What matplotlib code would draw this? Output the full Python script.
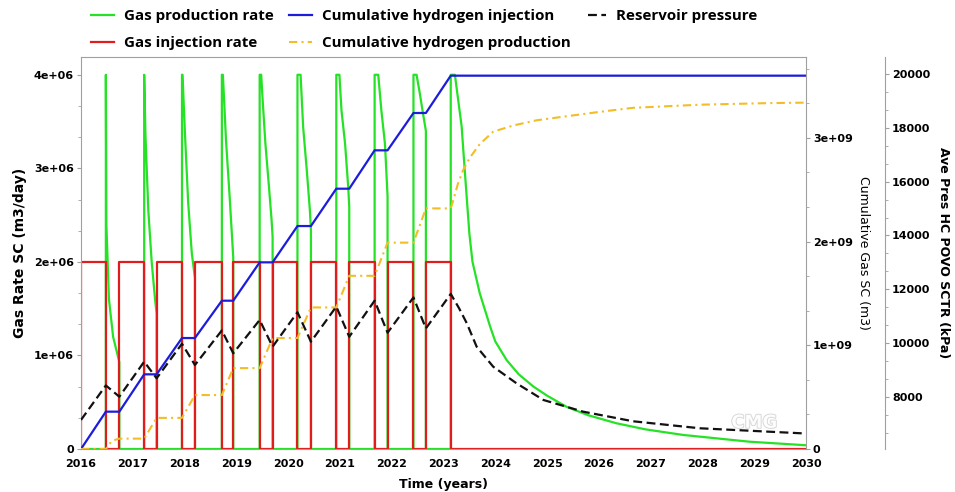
import matplotlib
matplotlib.use("Agg")
import matplotlib.pyplot as plt
import matplotlib.patheffects as pe
from matplotlib.ticker import FixedLocator, MultipleLocator

# Injection schedule (decimal years)
inj_start = [2016.00, 2016.74, 2017.46, 2018.20, 2018.94, 2019.70, 2020.44, 2021.18, 2021.92, 2022.66]
inj_end = [2016.48, 2017.22, 2017.95, 2018.72, 2019.45, 2020.18, 2020.93, 2021.67, 2022.42, 2023.14]
inj_rate = 2.0e6  # m3/day

# Gas production rate (m3/day)
prod_years = [
    2016.00, 2016.48,
    2016.48, 2016.49, 2016.54, 2016.62, 2016.74, 2016.74,
    2017.22, 2017.22, 2017.245, 2017.30, 2017.365, 2017.43, 2017.46, 2017.46,
    2017.95, 2017.95, 2017.96, 2018.01, 2018.07, 2018.14, 2018.20, 2018.20,
    2018.72, 2018.72, 2018.74, 2018.80, 2018.87, 2018.94, 2018.94,
    2019.45, 2019.45, 2019.48, 2019.50, 2019.56, 2019.63, 2019.68, 2019.70, 2019.70,
    2020.18, 2020.18, 2020.24, 2020.29, 2020.36, 2020.42, 2020.44, 2020.44,
    2020.93, 2020.93, 2020.99, 2021.03, 2021.10, 2021.16, 2021.18, 2021.18,
    2021.67, 2021.67, 2021.74, 2021.80, 2021.87, 2021.92, 2021.92,
    2022.42, 2022.42, 2022.48, 2022.54, 2022.60, 2022.66, 2022.66,
    2023.14, 2023.14, 2023.22, 2023.35, 2023.41, 2023.50, 2023.56, 2023.70,
    2023.90, 2024.00, 2024.22, 2024.45, 2024.73, 2025.00, 2025.38, 2025.80,
    2026.34, 2026.90, 2027.63, 2028.91, 2030.00,
]
prod_rate = [
    0, 0,
    4.0e6, 2.4e6, 1.6e6, 1.2e6, 0.93e6, 0,
    0, 4.0e6, 3.35e6, 2.55e6, 2.0e6, 1.6e6, 1.45e6, 0,
    0, 4.0e6, 4.0e6, 3.34e6, 2.63e6, 2.09e6, 1.83e6, 0,
    0, 4.0e6, 4.0e6, 3.3e6, 2.7e6, 2.05e6, 0,
    0, 4.0e6, 4.0e6, 3.8e6, 3.27e6, 2.80e6, 2.45e6, 2.27e6, 0,
    0, 4.0e6, 4.0e6, 3.44e6, 2.98e6, 2.55e6, 2.34e6, 0,
    0, 4.0e6, 4.0e6, 3.62e6, 3.26e6, 2.80e6, 2.59e6, 0,
    0, 4.0e6, 4.0e6, 3.62e6, 3.26e6, 2.70e6, 0,
    0, 4.0e6, 4.0e6, 3.81e6, 3.60e6, 3.40e6, 0,
    0, 4.0e6, 4.0e6, 3.45e6, 2.98e6, 2.3e6, 2.0e6, 1.665e6,
    1.31e6, 1.15e6, 0.95e6, 0.80e6, 0.67e6, 0.57e6, 0.45e6, 0.36e6,
    0.275e6, 0.21e6, 0.15e6, 0.078e6, 0.04e6,
]

# Cumulative hydrogen injection (m3)
cum_inj_years = [2016.00, 2016.48, 2016.74, 2017.22, 2017.46, 2017.95, 2018.20, 2018.72,
                 2018.94, 2019.45, 2019.70, 2020.18, 2020.44, 2020.93, 2021.18, 2021.67,
                 2021.92, 2022.42, 2022.66, 2023.14, 2030.00]
cum_inj = [0, 0.36e9, 0.36e9, 0.72e9, 0.72e9, 1.07e9, 1.07e9, 1.43e9,
           1.43e9, 1.80e9, 1.80e9, 2.15e9, 2.15e9, 2.51e9, 2.51e9, 2.88e9,
           2.88e9, 3.24e9, 3.24e9, 3.60e9, 3.60e9]

# Cumulative hydrogen production (m3)
cum_prod_years = [2016.00, 2016.48, 2016.60, 2016.74, 2017.22, 2017.46, 2017.95, 2018.20,
                  2018.72, 2018.94, 2019.45, 2019.70, 2020.18, 2020.44, 2020.93, 2021.18,
                  2021.67, 2021.92, 2022.42, 2022.66, 2023.14, 2023.19, 2023.28, 2023.38,
                  2023.51, 2023.70, 2023.96, 2024.35, 2024.80, 2025.25, 2026.00, 2026.66,
                  2027.95, 2029.24, 2030.00]
cum_prod = [0, 0, 0.08e9, 0.10e9, 0.10e9, 0.30e9, 0.30e9, 0.52e9,
            0.52e9, 0.78e9, 0.78e9, 1.07e9, 1.07e9, 1.365e9, 1.365e9, 1.67e9,
            1.67e9, 1.99e9, 1.99e9, 2.32e9, 2.32e9, 2.40e9, 2.56e9, 2.69e9,
            2.81e9, 2.94e9, 3.06e9, 3.12e9, 3.17e9, 3.20e9, 3.25e9, 3.29e9,
            3.32e9, 3.335e9, 3.34e9]

# Average reservoir pressure (kPa)
pres_years = [2016.00, 2016.48, 2016.74, 2017.22, 2017.46, 2017.95, 2018.20, 2018.72,
              2018.94, 2019.45, 2019.70, 2020.18, 2020.44, 2020.93, 2021.18, 2021.67,
              2021.92, 2022.42, 2022.66, 2023.14, 2023.30, 2023.45, 2023.64, 2023.96,
              2024.41, 2024.93, 2025.70, 2026.66, 2027.95, 2030.00]
pres_kpa = [7150, 8430, 8013, 9313, 8696, 9980, 9190, 10475,
            9625, 10862, 9870, 11150, 10055, 11360, 10240, 11580,
            10390, 11700, 10550, 11830, 11300, 10740, 9870, 9127,
            8510, 7890, 7455, 7100, 6840, 6645]

# Step series for the injection rate
inj_years, inj_q = [], []
for s, e in zip(inj_start, inj_end):
    inj_years += [s, s, e, e]
    inj_q += [0, inj_rate, inj_rate, 0]
inj_years.append(2030.0)
inj_q.append(0)

GREEN = "#26e226"
RED = "#e01c1c"
BLUE = "#1c1cdc"
GOLD = "#f2bd26"
SPINE = "#a0a0a0"

fig = plt.figure(figsize=(9.55, 4.92), dpi=100)
ax1 = fig.add_axes([81 / 955, 1 - 449 / 492, 725 / 955, 392 / 492])
ax2 = ax1.twinx()
ax3 = ax1.twinx()

g, = ax1.plot(prod_years, prod_rate, color=GREEN, lw=1.6, label="Gas production rate")
r, = ax1.plot(inj_years, inj_q, color=RED, lw=1.6, label="Gas injection rate")
b, = ax2.plot(cum_inj_years, cum_inj, color=BLUE, lw=1.6, label="Cumulative hydrogen injection")
y, = ax2.plot(cum_prod_years, cum_prod, color=GOLD, lw=1.5, dashes=(4, 2, 1, 2),
              label="Cumulative hydrogen production")
k, = ax3.plot(pres_years, pres_kpa, color="#111111", lw=1.6, dashes=(4, 2),
              label="Reservoir pressure")

ax1.set_xlim(2016, 2030)
ax1.set_ylim(0, 4.19e6)
ax2.set_ylim(0, 3.78e9)
ax3.set_ylim(6070, 20630)

bold = dict(fontweight="bold", fontsize=8)

ax1.set_xticks(range(2016, 2031))
ax1.set_xticklabels([str(v) for v in range(2016, 2031)], **bold)
ax1.yaxis.set_major_locator(FixedLocator([0, 1e6, 2e6, 3e6, 4e6]))
ax1.set_yticklabels(["0", "1e+06", "2e+06", "3e+06", "4e+06"], **bold)
ax1.yaxis.set_minor_locator(MultipleLocator(1e6 / 3))

ax2.yaxis.set_major_locator(FixedLocator([0, 1e9, 2e9, 3e9]))
ax2.set_yticklabels(["0", "1e+09", "2e+09", "3e+09"], **bold)
ax2.yaxis.set_minor_locator(MultipleLocator(1e9 / 3))

ax3.spines["right"].set_position(("axes", (885 - 81) / 725))
ax3.yaxis.set_major_locator(FixedLocator(range(8000, 20001, 2000)))
ax3.set_yticklabels([str(v) for v in range(8000, 20001, 2000)], **bold)
ax3.yaxis.set_minor_locator(MultipleLocator(2000 / 3))

for ax in (ax1, ax2, ax3):
    for sp in ax.spines.values():
        sp.set_color(SPINE)
    ax.tick_params(which="both", direction="out", color=SPINE, length=3, pad=2)
    ax.tick_params(which="minor", length=2)
ax1.tick_params(axis="x", length=0, pad=7)
for sp in ("left", "top", "bottom"):
    ax2.spines[sp].set_visible(False)
    ax3.spines[sp].set_visible(False)
ax1.spines["right"].set_visible(False)

ax1.set_ylabel("Gas Rate SC (m3/day)", fontsize=10, fontweight="bold", labelpad=5)
ax1.set_xlabel("Time (years)", fontsize=9, fontweight="bold", labelpad=7)
ax2.set_ylabel("Cumulative Gas SC (m3)", fontsize=9, rotation=-90, labelpad=12)
ax3.set_ylabel("Ave Pres HC POVO SCTR (kPa)", fontsize=9, fontweight="bold",
               rotation=-90, labelpad=14)

# software watermark in the lower right
ax1.text(2029.0, 0.28e6, "CMG", fontsize=13, fontweight="bold", color="white",
         ha="center", va="center", alpha=0.9,
         path_effects=[pe.withStroke(linewidth=1.2, foreground="#d0d0d0")])

leg_font = dict(family="Open Sans", weight="bold", size=10.9)
fig.legend(handles=[g, r, b, y], ncol=2, loc="upper left",
           bbox_to_anchor=(91 / 955, 1 - 9 / 492), frameon=False,
           borderpad=0, borderaxespad=0, handlelength=1.5, handletextpad=0.65,
           columnspacing=1.05, labelspacing=0.85, prop=leg_font)
fig.legend(handles=[k], loc="upper left", bbox_to_anchor=(588 / 955, 1 - 9 / 492),
           frameon=False, borderpad=0, borderaxespad=0, handlelength=1.2,
           handletextpad=0.65, prop=leg_font)

fig.savefig("out.png", dpi=100)
